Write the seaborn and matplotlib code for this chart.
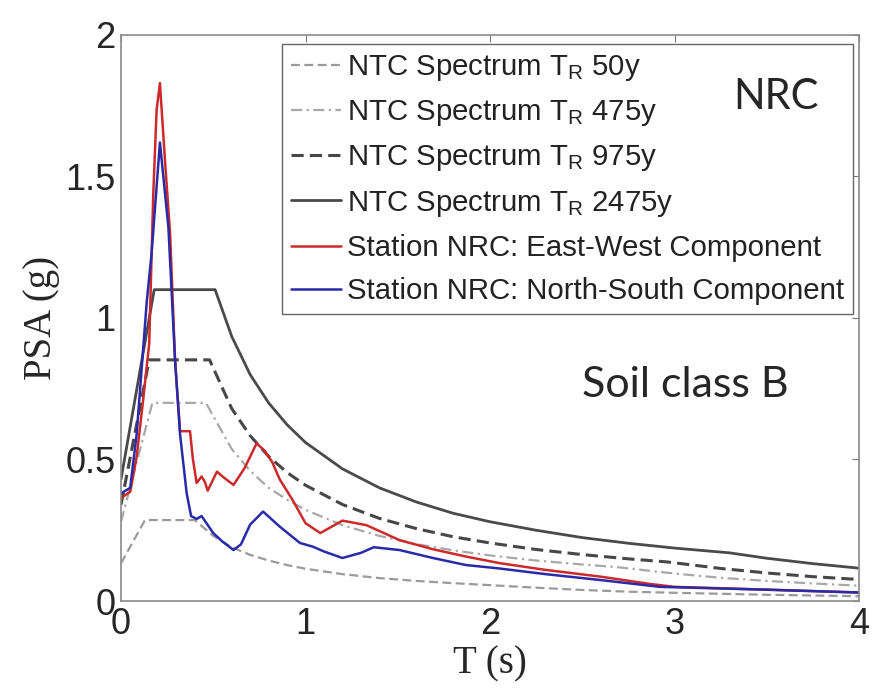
import numpy as np
import pandas as pd
import seaborn as sns
import matplotlib.pyplot as plt

# NTC design spectra
t_50 = [0, 0.13, 0.40, 0.5, 0.6, 0.7, 0.8, 0.9, 1.0, 1.2, 1.4, 1.6, 1.8, 2.0, 2.25, 2.5, 2.75, 3.0, 3.5, 4.0]
psa_50 = [0.133, 0.286, 0.286, 0.23, 0.19, 0.163, 0.143, 0.127, 0.114, 0.095, 0.081, 0.071, 0.063, 0.056,
          0.047, 0.039, 0.033, 0.029, 0.022, 0.017]

t_475 = [0, 0.17, 0.46, 0.6, 0.7, 0.8, 0.9, 1.0, 1.2, 1.4, 1.6, 1.8, 2.0, 2.25, 2.5, 2.7, 3.0, 3.25, 3.5, 3.75, 4.0]
psa_475 = [0.28, 0.70, 0.70, 0.537, 0.46, 0.40, 0.358, 0.322, 0.268, 0.23, 0.201, 0.179, 0.161, 0.143,
           0.129, 0.119, 0.097, 0.082, 0.071, 0.062, 0.054]

t_975 = [0, 0.153, 0.48, 0.6, 0.7, 0.8, 0.9, 1.0, 1.2, 1.4, 1.6, 1.8, 2.0, 2.25, 2.5, 2.75, 2.96, 3.25, 3.5, 3.75, 4.0]
psa_975 = [0.34, 0.852, 0.852, 0.68, 0.584, 0.511, 0.454, 0.409, 0.341, 0.292, 0.256, 0.227, 0.205, 0.182,
           0.164, 0.149, 0.138, 0.115, 0.099, 0.086, 0.076]

t_2475 = [0, 0.18, 0.51, 0.6, 0.7, 0.8, 0.9, 1.0, 1.2, 1.4, 1.6, 1.8, 2.0, 2.25, 2.5, 2.75, 3.0, 3.3, 3.5, 3.75, 4.0]
psa_2475 = [0.43, 1.10, 1.10, 0.935, 0.80, 0.70, 0.623, 0.56, 0.467, 0.40, 0.35, 0.31, 0.28, 0.25,
            0.224, 0.204, 0.187, 0.17, 0.151, 0.132, 0.116]

# recorded spectra, station NRC
t_ew = [0, 0.05, 0.085, 0.12, 0.153, 0.175, 0.193, 0.211, 0.238, 0.266, 0.293, 0.32, 0.374, 0.39, 0.41,
        0.437, 0.455, 0.47, 0.52, 0.55, 0.61, 0.67, 0.735, 0.78, 0.82, 0.86, 0.93, 1.0, 1.08, 1.2, 1.33,
        1.51, 1.69, 1.87, 2.05, 2.3, 2.6, 2.87, 3.0, 3.5, 4.0]
psa_ew = [0.364, 0.386, 0.51, 0.71, 0.91, 1.44, 1.735, 1.83, 1.56, 1.30, 0.85, 0.60, 0.60, 0.50, 0.417,
          0.44, 0.42, 0.39, 0.457, 0.44, 0.41, 0.47, 0.557, 0.53, 0.49, 0.43, 0.357, 0.275, 0.24, 0.284,
          0.268, 0.215, 0.183, 0.157, 0.134, 0.11, 0.086, 0.06, 0.05, 0.04, 0.03]

t_ns = [0, 0.05, 0.085, 0.12, 0.14, 0.166, 0.211, 0.257, 0.293, 0.32, 0.356, 0.38, 0.41, 0.437, 0.50,
        0.55, 0.61, 0.65, 0.70, 0.77, 0.86, 0.97, 1.04, 1.1, 1.2, 1.3, 1.37, 1.51, 1.69, 1.87, 2.05,
        2.3, 2.6, 2.92, 3.5, 4.0]
psa_ns = [0.38, 0.40, 0.59, 0.89, 1.06, 1.23, 1.62, 1.32, 0.85, 0.59, 0.38, 0.30, 0.29, 0.30, 0.24,
          0.21, 0.18, 0.20, 0.27, 0.316, 0.263, 0.205, 0.192, 0.175, 0.152, 0.17, 0.19, 0.18, 0.152,
          0.127, 0.115, 0.095, 0.074, 0.05, 0.04, 0.03]

series = [
    (t_50, psa_50, r'NTC Spectrum T$_\mathregular{R}$ 50y', '#9a9a9a', (0, (4, 2)), 1.6),
    (t_475, psa_475, r'NTC Spectrum T$_\mathregular{R}$ 475y', '#a8a8a8', (0, (5, 2, 1, 2)), 1.6),
    (t_975, psa_975, r'NTC Spectrum T$_\mathregular{R}$ 975y', '#474747', (0, (4, 2)), 2.2),
    (t_2475, psa_2475, r'NTC Spectrum T$_\mathregular{R}$ 2475y', '#4a4a4a', '-', 2.0),
    (t_ew, psa_ew, 'Station NRC: East-West Component', '#cc2a2a', '-', 1.8),
    (t_ns, psa_ns, 'Station NRC: North-South Component', '#2a2aa8', '-', 1.8),
]

sns.set_style('white')
plt.rcParams['font.family'] = ['Liberation Sans', 'DejaVu Sans']
plt.rcParams['mathtext.fontset'] = 'custom'
plt.rcParams['mathtext.rm'] = 'Liberation Sans'

fig = plt.figure(figsize=(8.73, 6.92), dpi=100)
ax = fig.add_axes([0.1386, 0.1315, 0.8454, 0.818])

for t, psa, label, color, ls, lw in series:
    df = pd.DataFrame({'T': t, 'PSA': psa})
    sns.lineplot(data=df, x='T', y='PSA', ax=ax, color=color, linestyle=ls,
                 linewidth=lw, label=label, estimator=None, sort=False)

ax.set_xlim(0, 4)
ax.set_ylim(0, 2)
ax.set_xticks([0, 1, 2, 3, 4])
ax.set_xticklabels(['0', '1', '2', '3', '4'])
ax.set_yticks([0, 0.5, 1, 1.5, 2])
ax.set_yticklabels(['0', '0.5', '1', '1.5', '2'])
ax.tick_params(direction='in', length=5, width=0.8, color='#777777', labelsize=26,
               top=True, right=True, pad=4)

for s in ax.spines.values():
    s.set_visible(True)
    s.set_color('#8a8a8a')
    s.set_linewidth(1.2)

ax.set_xlabel('T (s)', fontsize=28, family='Liberation Serif', labelpad=3)
ax.set_ylabel('PSA (g)', fontsize=28, family='Liberation Serif', labelpad=4)

leg = ax.legend(loc='upper left', bbox_to_anchor=(282 / 873, 1 - 44 / 692),
                bbox_transform=fig.transFigure, borderaxespad=0, fontsize=21.2,
                handlelength=1.7, handletextpad=0.2, labelspacing=0.52,
                fancybox=False, framealpha=1, borderpad=0.3)
leg.get_frame().set_edgecolor('#666666')
leg.get_frame().set_linewidth(1.0)
for txt in leg.get_texts():
    txt.set_color('#222222')

ax.text(0.8875, 0.869, 'NRC', transform=ax.transAxes, fontsize=30,
        family='Lato', ha='center', va='baseline', zorder=10)
ax.text(0.624, 0.36, 'Soil class B', transform=ax.transAxes, fontsize=31,
        family='Lato', ha='left', va='baseline', zorder=10)

fig.savefig('out.png', dpi=100)
